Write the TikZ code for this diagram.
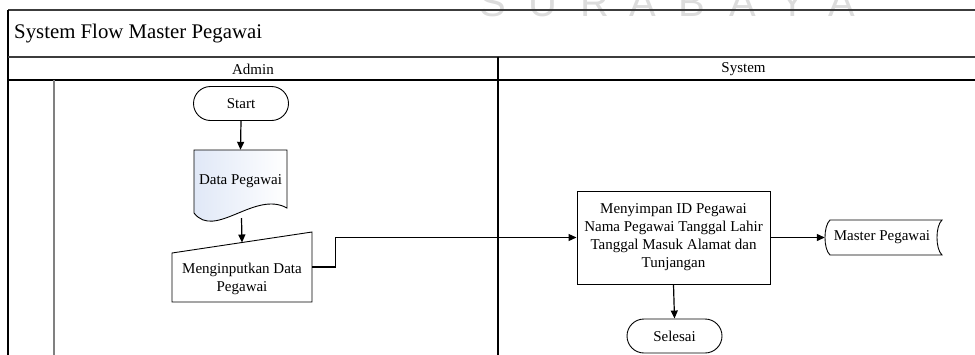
\documentclass[tikz,border=0pt]{standalone}
\usepackage{fontspec}
\setmainfont{Liberation Serif}
\newfontfamily\wmfont{Liberation Sans}
\usetikzlibrary{arrows.meta}
\definecolor{docblue}{HTML}{E0E8F7}
\definecolor{framegray}{HTML}{3C3C3C}
\definecolor{lanegray}{HTML}{808080}
\definecolor{wmgray}{HTML}{DCDCDC}

\begin{document}
\begin{tikzpicture}[x=1pt,y=-1pt,
  every node/.style={font=\fontsize{15}{18}\selectfont, inner sep=0pt},
  flow/.style={line width=1.2pt, -{Triangle[length=8pt,width=7pt]}},
  term/.style={draw, line width=0.9pt, rounded corners=17pt,
    minimum width=95pt, minimum height=34pt},
  proc/.style={draw, line width=1pt, align=center,
    minimum width=193pt, minimum height=93pt},
  ghost/.style={align=center},
  shapeline/.style={draw, line width=0.9pt},
  watermark/.style={font=\wmfont\fontsize{40}{40}\selectfont, text=wmgray, anchor=base}
]
\useasboundingbox (0,0) rectangle (975,354);
\clip (0,0) rectangle (975,354);

% faint lettering along the top edge
\foreach \ch/\px [count=\i] in {S/493,U/543,R/595,A/643,B/692,A/743,Y/793,A/842}
  \node[watermark] (wm\i) at (\px,16) {\ch};

% swimlane frame
\draw[framegray, line width=1.3pt] (8,10) -- (980,10);
\draw[black, line width=1.2pt] (8,10) -- (8,360);
\draw[framegray, line width=2pt] (8,56.5) -- (980,56.5);
\draw[black, line width=1.2pt] (8,80) -- (980,80);
\draw[black, line width=1.1pt] (498,56.5) -- (498,360);
\draw[lanegray, line width=1.4pt] (54,80) -- (54,360);

\node[anchor=west, font=\fontsize{20.8}{24}\selectfont] (title) at (14,34) {System Flow Master Pegawai};
\node (admin) at (253,69) {Admin};
\node (system) at (743.5,69) {System};

% Admin lane
\node[term] (start) at (241,103.5) {Start};

\node[ghost, minimum width=93pt, minimum height=63pt] (doc) at (240.5,181.5) {};
\path[shapeline, left color=docblue, right color=white]
  (194,150) -- (287,150) -- (287,208)
  .. controls (255,190) and (215,240) .. (194,213) -- cycle;
\node[ghost] (doctext) at (240.5,181.5) {Data Pegawai};
\coordinate (docbot) at (241.5,218);

\node[ghost, minimum width=140pt, minimum height=70pt] (input) at (242,267) {};
\draw[line width=0.9pt] (172,253) -- (312,232) -- (312,302) -- (172,302) -- cycle;
\node[ghost] (inputtext) at (242,278.5) {Menginputkan Data\\Pegawai};
\coordinate (inputtop) at (242,242.5);

% System lane
\node[proc] (save) at (673.5,237.5)
  {Menyimpan ID Pegawai\\Nama Pegawai Tanggal Lahir\\Tanggal Masuk Alamat dan\\Tunjangan};

\node[ghost, minimum width=117pt, minimum height=35pt] (master) at (883.5,237.5) {};
\draw[line width=0.9pt] (830,220) -- (942,220)
  .. controls (935.3,226) and (935.3,249) .. (942,255) -- (830,255)
  .. controls (823.3,249) and (823.3,226) .. (830,220) -- cycle;
\node (mastertext) at (882,237.5) {Master Pegawai};

\node[term] (end) at (674.5,336) {Selesai};

% connectors
\draw[flow] (start.south) -- (doc.north);
\draw[flow] (docbot) -- (inputtop);
\draw[flow] (input.east) -- ++(23,0) |- (save.west);
\draw[flow] (save.east) -- (master.west);
\draw[flow] (save.south) -- (end.north);
\end{tikzpicture}
\end{document}
